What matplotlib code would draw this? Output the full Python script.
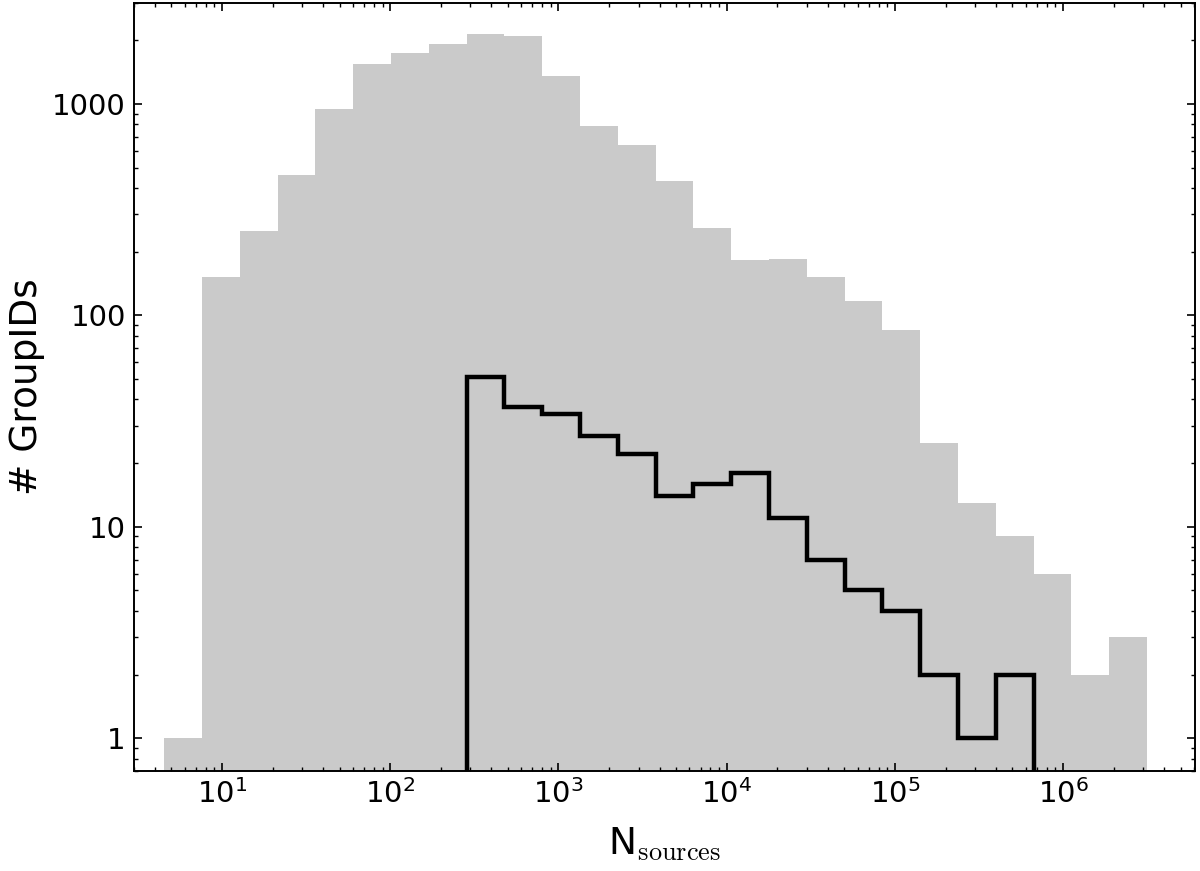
import numpy as np
import matplotlib
matplotlib.use("Agg")
import matplotlib.pyplot as plt
from matplotlib.ticker import LogLocator, FuncFormatter, NullFormatter, LogFormatterSciNotation

plt.rcParams['mathtext.fontset'] = 'cm'
plt.rcParams['font.family'] = ['DejaVu Sans']

# log10 of the first and last bin edge, number of bins
edge_lo, edge_hi, n_bins = 0.656, 6.499, 26

# all GroupIDs (grey filled histogram)
all_counts = [1, 152, 250, 460, 948, 1548, 1746, 1911, 2130, 2093,
              1348, 785, 638, 431, 260, 182, 184, 151, 117, 85,
              25, 13, 9, 6, 2, 3]

# subset (black step histogram), occupying bins 8..22
sub_first_bin = 8
sub_counts = [51, 37, 34, 27, 22, 14, 16, 18, 11, 7, 5, 4, 2, 1, 2]

yticks = [1, 10, 100, 1000]
xticks = [1e1, 1e2, 1e3, 1e4, 1e5, 1e6]

edges = np.logspace(edge_lo, edge_hi, n_bins + 1)
sub_edges = edges[sub_first_bin:sub_first_bin + len(sub_counts) + 1]

fig = plt.figure(figsize=(12, 8.71), dpi=100)
ax = fig.add_axes([0.1117, 0.1148, 0.8841, 0.8818])
ax.set_xscale('log')
ax.set_yscale('log')

ax.stairs(all_counts, edges, fill=True, color='#cacaca', baseline=1e-3, zorder=1)
ax.stairs(sub_counts, sub_edges, color='black', linewidth=3.2, baseline=1e-3, zorder=2)

ax.set_xlim(3.0, 6.08e6)
ax.set_ylim(0.70, 3000)

ax.set_yticks(yticks)
ax.yaxis.set_major_formatter(FuncFormatter(lambda v, p: '%d' % v))
ax.yaxis.set_minor_locator(LogLocator(base=10, subs=np.arange(2, 10)))
ax.yaxis.set_minor_formatter(NullFormatter())
ax.set_xticks(xticks)
ax.xaxis.set_major_formatter(LogFormatterSciNotation())
ax.xaxis.set_minor_locator(LogLocator(base=10, subs=np.arange(2, 10)))
ax.xaxis.set_minor_formatter(NullFormatter())

ax.tick_params(which='both', direction='in', top=True, right=True, labelsize=21)
ax.tick_params(which='major', length=6, width=1.2, pad=6)
ax.tick_params(which='minor', length=3, width=1.0)
for s in ax.spines.values():
    s.set_linewidth(1.4)

ax.set_xlabel(r'N$_{\rm sources}$', fontsize=27, labelpad=12)
ax.set_ylabel('# GroupIDs', fontsize=27, va='center')
ax.yaxis.set_label_coords(-0.1005, 0.5)

fig.savefig('out.png', dpi=100)
